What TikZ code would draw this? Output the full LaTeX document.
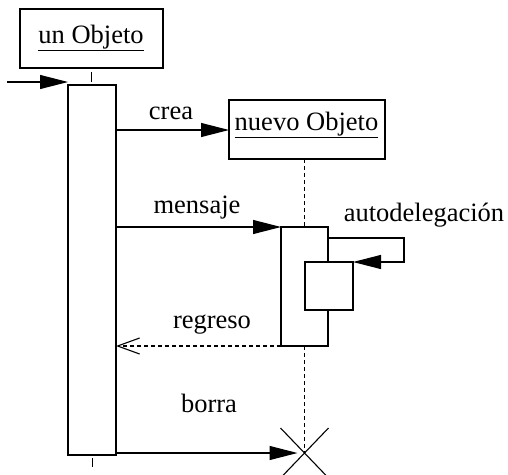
\documentclass[tikz,border=0pt]{standalone}
\usepackage{fontspec}
\setmainfont{Liberation Serif}
\newfontfamily\dfont{Liberation Serif}
\usetikzlibrary{arrows.meta,calc}
\begin{document}
\begin{tikzpicture}[x=1pt,y=-1pt,
  every node/.style={inner sep=0pt,outer sep=0pt},
  lbl/.style={font=\dfont\fontsize{26.5}{29}\selectfont},
  obj/.style={draw,line width=1.1pt,fill=white},
  act/.style={draw,line width=1.1pt,fill=white},
  msg/.style={line width=1.1pt,-{Triangle[length=28pt,width=14pt]}},
  ret/.style={line width=1.1pt,dash pattern=on 4pt off 3pt,-{Straight Barb[length=22pt,width=16pt,line width=1.1pt]}},
  life/.style={line width=1.1pt,dash pattern=on 4pt off 3pt},
  tick/.style={line width=1pt}]
\useasboundingbox (0,0) rectangle (508,474);
% objects
\node[obj,minimum width=143pt,minimum height=59pt] (o1) at (91.5,38.5) {};
\node[lbl] (o1t) at (91,38) {\underline{un Objeto}};
\node[obj,minimum width=156pt,minimum height=59pt] (o2) at (307,129.5) {};
\node[lbl] (o2t) at (306.5,125) {\underline{nuevo Objeto}};
% activations
\node[act,minimum width=48pt,minimum height=370pt] (b1) at (92,270) {};
\node[act,minimum width=47pt,minimum height=119pt] (b2) at (304.5,286.5) {};
\node[act,minimum width=48pt,minimum height=48pt] (b3) at (329,286) {};
% coordinates
\coordinate (in) at (7,82);
\coordinate (tb) at (92,467);
\coordinate (xc) at (304.5,453);
\coordinate (s1) at (404,238);
\coordinate (s2) at (404,262);
% lifeline ticks
\draw[tick,shorten <=4pt,shorten >=3pt] (o1.south) -- (o1.south |- b1.north);
\draw[tick,shorten <=3pt] (b1.south) -- (tb);
% dashed lifelines
\draw[life] (b2.north |- o2.south) -- (b2.north);
\draw[life] (b2.south) -- (xc);
% destruction X
\draw[line width=1.1pt] ($(xc)+(-24,-25)$) -- ($(xc)+(24,25)$);
\draw[line width=1.1pt] ($(xc)+(24,-25)$) -- ($(xc)+(-24,25)$);
% messages
\draw[msg] (in) -- (in -| b1.west);
\draw[msg] (b1.east |- 0,130) -- (o2.west |- 0,130);
\node[lbl] (crea) at (171,113) {crea};
\draw[msg] (b1.east |- b2.north west) -- (b2.north west);
\node[lbl] (mens) at (197,208) {mensaje};
\draw[msg] (b2.east |- s1) -- (s1) -- (s2) -- (b3.north east);
\node[lbl] (ad) at (424,215) {autodelegación};
\draw[ret] (b2.south west) -- (b1.east |- b2.south west);
\node[lbl] (reg) at (212,325) {regreso};
\draw[msg,shorten >=7pt] (b1.east |- xc) -- (xc);
\node[lbl] (br) at (209,403) {borra};
\end{tikzpicture}
\end{document}
